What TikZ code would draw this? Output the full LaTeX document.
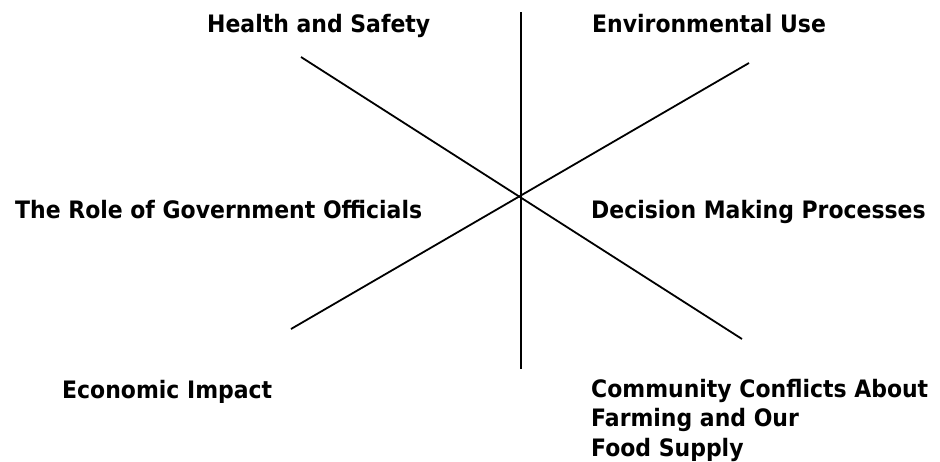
\documentclass[tikz,border=0pt]{standalone}
\usepackage{fontspec}
\setmainfont{DejaVu Sans}[FakeStretch=0.915]
\begin{document}
\begin{tikzpicture}[x=1pt,y=-1pt,
  lbl/.style={anchor=base west,inner sep=0pt,font=\fontsize{24}{29.2}\selectfont\bfseries,align=left},
  spoke/.style={line width=1.8pt,black}]
\useasboundingbox (0,0) rectangle (940,461);
% spoke endpoints
\coordinate (vt) at (521,12);
\coordinate (vb) at (521,369);
\coordinate (ul) at (301,57);
\coordinate (lr) at (742,339);
\coordinate (ur) at (749,63);
\coordinate (ll) at (291,329);
\draw[spoke] (vt) -- (vb);
\draw[spoke] (ul) -- (lr);
\draw[spoke] (ur) -- (ll);
% labels
\node[lbl] (hs) at (207,32.7) {Health and Safety};
\node[lbl] (eu) at (592,32.7) {Environmental Use};
\node[lbl] (rg) at (15,218.3) {The Role of Government Officials};
\node[lbl] (dm) at (591,218.3) {Decision Making Processes};
\node[lbl] (ei) at (62,398) {Economic Impact};
\node[lbl] (cc) at (591,456) {Community Conflicts About\\Farming and Our\\Food Supply};
\end{tikzpicture}
\end{document}
